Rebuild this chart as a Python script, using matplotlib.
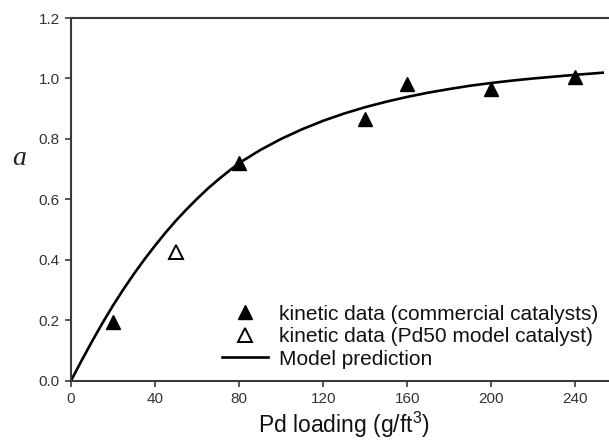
import matplotlib
matplotlib.use("Agg")
import matplotlib.pyplot as plt

plt.rcParams['font.family'] = ['Liberation Sans', 'DejaVu Sans']
plt.rcParams['mathtext.default'] = 'regular'

# Kinetic data, commercial catalysts
pd_commercial = [20, 80, 140, 160, 200, 240]
a_commercial = [0.195, 0.72, 0.866, 0.98, 0.964, 1.004]

# Kinetic data, Pd50 model catalyst
pd_model_cat = [50]
a_model_cat = [0.425]

# Model prediction curve
pd_curve = [0, 5, 10, 15, 20, 25, 30, 35, 40, 45, 50, 55, 60, 65, 70, 75, 80,
            90, 100, 110, 120, 130, 140, 150, 160, 170, 180, 190, 200, 210,
            220, 230, 240, 253]
a_curve = [0.0, 0.066, 0.130, 0.191, 0.249, 0.303, 0.354, 0.402, 0.447, 0.490,
           0.530, 0.567, 0.602, 0.635, 0.665, 0.693, 0.720,
           0.763, 0.800, 0.832, 0.860, 0.884, 0.905, 0.923, 0.939, 0.953,
           0.965, 0.976, 0.985, 0.993, 1.000, 1.006, 1.012, 1.019]

x_ticks = [0, 40, 80, 120, 160, 200, 240]
y_ticks = [0.0, 0.2, 0.4, 0.6, 0.8, 1.0, 1.2]

fig = plt.figure(figsize=(6.09, 4.41), dpi=100)
ax = fig.add_axes([71 / 609, (441 - 380.7) / 441, 538 / 609, 362.7 / 441])

ax.plot(pd_curve, a_curve, color='black', lw=1.9, label='Model prediction',
        solid_joinstyle='round', zorder=2)
ax.plot(pd_commercial, a_commercial, linestyle='none', marker='^', ms=10,
        color='black', label='kinetic data (commercial catalysts)', zorder=3)
ax.plot(pd_model_cat, a_model_cat, linestyle='none', marker='^', ms=10,
        mfc='white', mec='black', mew=1.4,
        label='kinetic data (Pd50 model catalyst)', zorder=3)

ax.set_xlim(0, 256)
ax.set_ylim(0, 1.2)
ax.set_xticks(x_ticks)
ax.set_yticks(y_ticks)
ax.set_yticklabels([f'{v:.1f}' for v in y_ticks])

spine_col = '#3a3a3a'
for side in ['left', 'bottom', 'top']:
    ax.spines[side].set_color(spine_col)
    ax.spines[side].set_linewidth(1.5)
ax.spines['right'].set_visible(False)
ax.tick_params(direction='out', length=4, width=1.2, color=spine_col,
               labelsize=11, labelcolor='#333333', pad=4)

ax.set_xlabel(r'Pd loading (g/ft$^3$)', fontsize=16.5, color='#111111')
ax.xaxis.set_label_coords(0.507, -0.122)
ax.xaxis.label.set_va('center')

ax.set_ylabel('a', fontsize=20, family='Liberation Serif', style='italic',
              rotation=0, color='#222222')
ax.yaxis.set_label_coords(-0.097, 0.614)
ax.yaxis.label.set_va('center')
ax.yaxis.label.set_ha('center')

handles, labels = ax.get_legend_handles_labels()
order = [1, 2, 0]
leg = ax.legend([handles[i] for i in order], [labels[i] for i in order],
                loc='lower left', bbox_to_anchor=(0.281, 0.033), frameon=False,
                fontsize=15, handlelength=2.2, handletextpad=0.55,
                labelspacing=0.17, borderpad=0, borderaxespad=0)
for t in leg.get_texts():
    t.set_color('#111111')

fig.savefig('out.png', dpi=100)
